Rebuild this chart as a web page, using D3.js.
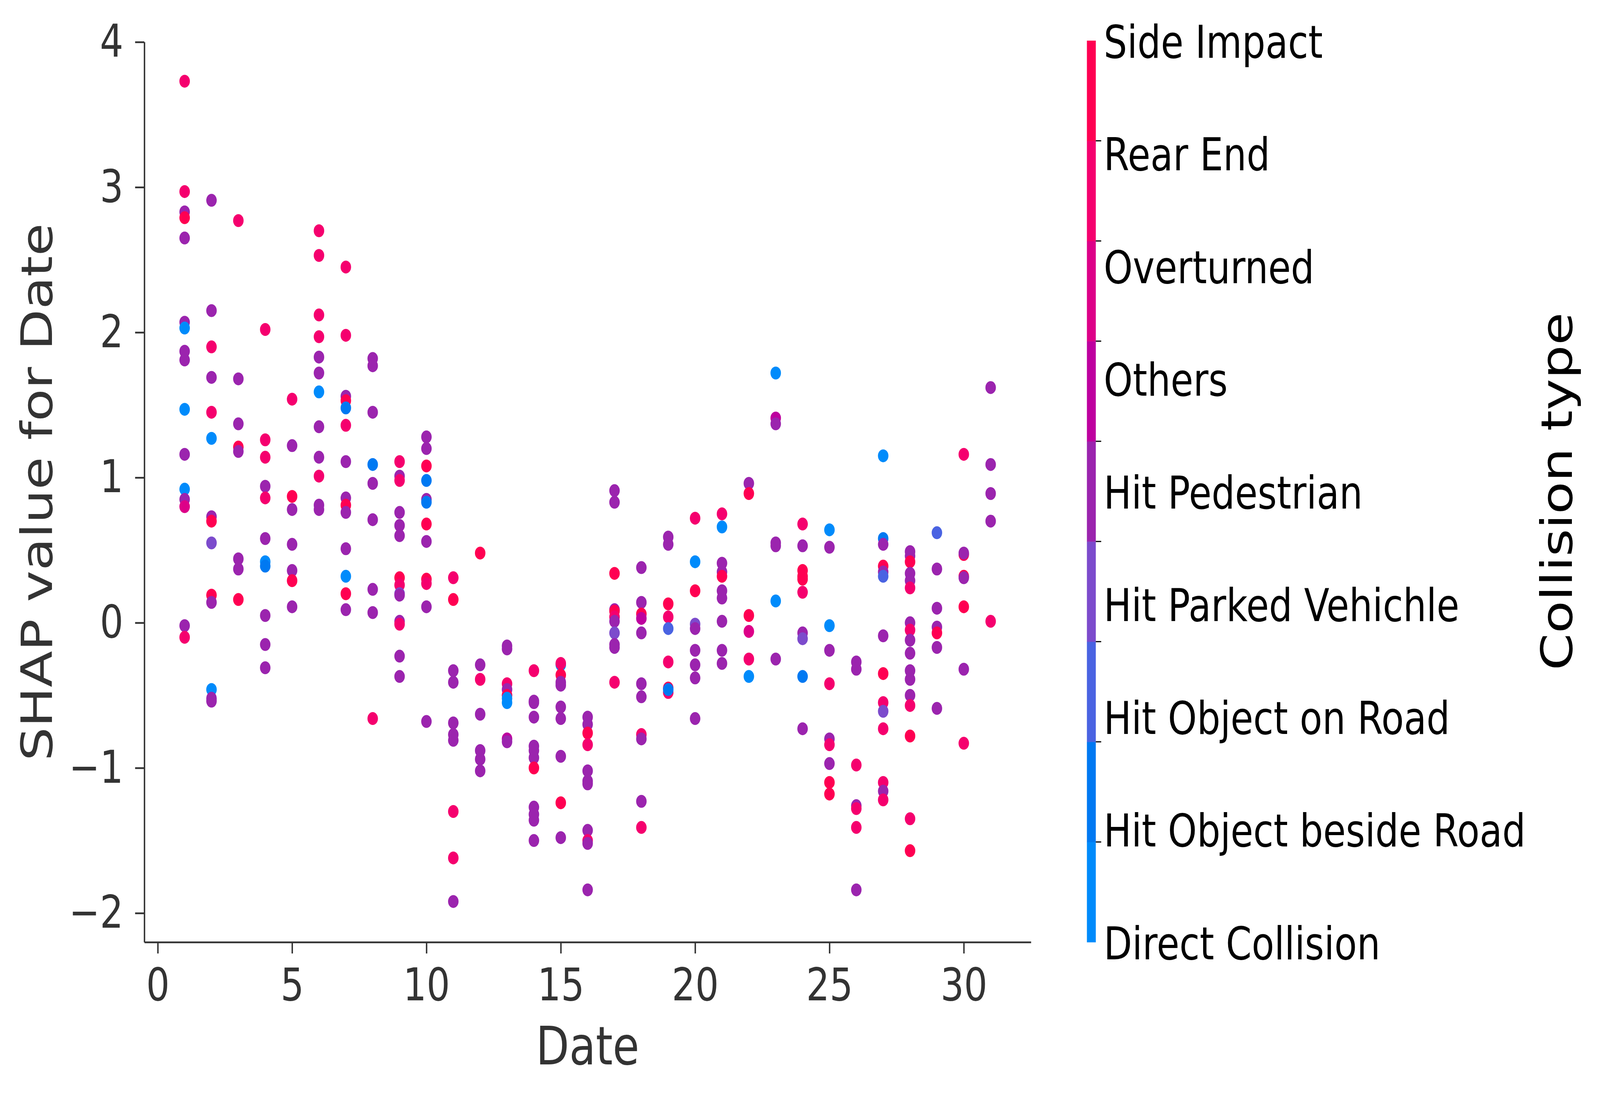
<!DOCTYPE html>
<html><head><meta charset="utf-8">
<script src="https://cdn.jsdelivr.net/npm/d3@7"></script>
<style>html,body{margin:0;padding:0;background:#fff;width:100%;height:100%;overflow:hidden;} svg{display:block;position:absolute;left:0;top:0;}</style>
</head><body>
<svg id="chart" viewBox="0 0 5033 2811" preserveAspectRatio="none"></svg>
<script>
// ---------- data ----------
const collisionTypes = ["Direct Collision","Hit Object beside Road","Hit Object on Road","Hit Parked Vehichle","Hit Pedestrian","Others","Overturned","Rear End","Side Impact"];
const typeCodes = "DBJKPOVRS"; // one letter per collision type, same order as collisionTypes
const dates = [1,2,3,4,5,6,7,8,9,10,11,12,13,14,15,16,17,18,19,20,21,22,23,24,25,26,27,28,29,30,31];
const shapByDate = [
  [3.73,2.97,2.83,2.79,2.65,2.07,2.03,1.87,1.81,1.47,1.16,0.92,0.85,0.80,-0.02,-0.10],
  [2.91,2.15,1.90,1.69,1.45,1.27,0.73,0.70,0.55,0.19,0.14,-0.46,-0.52,-0.54],
  [2.77,1.68,1.37,1.21,1.18,0.44,0.37,0.16],
  [2.02,1.26,1.14,0.94,0.86,0.58,0.42,0.39,0.05,-0.15,-0.31],
  [1.54,1.22,0.87,0.78,0.54,0.36,0.29,0.11],
  [2.70,2.53,2.12,1.97,1.83,1.72,1.59,1.35,1.14,1.01,0.81,0.78],
  [2.45,1.98,1.56,1.53,1.48,1.36,1.11,0.86,0.81,0.76,0.51,0.32,0.20,0.09],
  [1.82,1.77,1.45,1.09,0.96,0.71,0.23,0.07,-0.66],
  [1.11,1.01,0.98,0.76,0.67,0.60,0.31,0.26,0.20,0.19,0.01,-0.01,-0.23,-0.37],
  [1.28,1.20,1.08,0.98,0.85,0.83,0.68,0.56,0.30,0.27,0.11,-0.68],
  [0.31,0.16,-0.33,-0.41,-0.69,-0.77,-0.81,-1.30,-1.62,-1.92],
  [0.48,-0.29,-0.39,-0.63,-0.88,-0.94,-1.02],
  [-0.16,-0.18,-0.42,-0.46,-0.50,-0.52,-0.55,-0.80,-0.82],
  [-0.33,-0.54,-0.55,-0.65,-0.85,-0.88,-0.93,-1.00,-1.27,-1.32,-1.36,-1.50],
  [-0.29,-0.28,-0.36,-0.41,-0.43,-0.58,-0.66,-0.92,-1.24,-1.48],
  [-0.65,-0.70,-0.76,-0.84,-1.02,-1.09,-1.11,-1.43,-1.50,-1.52,-1.84],
  [0.91,0.83,0.34,0.09,0.08,0.04,0.01,-0.07,-0.15,-0.17,-0.41],
  [0.38,0.14,0.06,0.03,-0.07,-0.42,-0.51,-0.77,-0.80,-1.23,-1.41],
  [0.59,0.54,0.13,0.04,-0.04,-0.27,-0.45,-0.48,-0.46],
  [0.72,0.42,0.22,-0.01,-0.04,-0.19,-0.29,-0.38,-0.66],
  [0.75,0.66,0.41,0.35,0.32,0.22,0.17,0.01,-0.19,-0.28],
  [0.96,0.89,0.05,-0.06,-0.25,-0.37],
  [1.72,1.41,1.37,0.55,0.53,0.15,-0.25],
  [0.68,0.53,0.36,0.32,0.30,0.21,-0.07,-0.11,-0.37,-0.73],
  [0.64,0.52,-0.02,-0.19,-0.42,-0.80,-0.84,-0.97,-1.10,-1.18],
  [-0.27,-0.32,-0.98,-1.26,-1.28,-1.41,-1.84],
  [1.15,0.58,0.54,0.39,0.35,0.32,-0.09,-0.35,-0.55,-0.61,-0.73,-1.10,-1.16,-1.22],
  [0.49,0.46,0.42,0.34,0.29,0.24,0.00,-0.05,-0.12,-0.21,-0.33,-0.39,-0.50,-0.57,-0.78,-1.35,-1.57],
  [0.62,0.37,0.10,-0.03,-0.07,-0.17,-0.59],
  [1.16,0.47,0.48,0.32,0.31,0.11,-0.32,-0.83],
  [1.62,1.09,0.89,0.70,0.01]
];
const typeByDate = [
  "RRPSPPDPPDPDPVPR","PPRPRDPSKSPDPP","RPPSPPPS","RRRPRPDBPPP","RPSPPPSP",
  "RRRRPPDPPRPP","RRPSBRPPSPPDSP","PPPBPPPPR","RPRPPPSRKPPRPP","PPSBPBSPSRPP",
  "RSPPPPPRRP","SPRPPPP","PPRPSDDOP","RPPPPPPSPPPP","DRSPPPPPSP",
  "PPSRPPPPRPP","PPSPSRPKPPR","PPSOPPPRPPR","PPSRJRSRB","RDSKPPPPP",
  "RDPPSPPPPP","PSSVRD","DOPPPDP","RPSSSRPKBP","DPDPRPRPSS",
  "PPRPRRP","DBPSPJPSRKRRPR","PPSPPRPRPPPPPRSRS","JPPPSPP","RSPSPSPR","PPPPR"
];
const xTicks = [0,5,10,15,20,25,30];
const yTicks = [-2,-1,0,1,2,3,4];
const xLabel = "Date";
const yLabel = "SHAP value for Date";
const colorLabel = "Collision type";

// ---------- styles ----------
const typeColors = ["#008bfb","#0079f2","#4a63e2","#7c4bcc","#9b24ae","#be009f","#dd0088","#f5006e","#ff0052"];
const FONT = "DejaVu Sans, sans-serif";
const AXIS = "#333333";

const points = [];
dates.forEach((d, i) => {
  shapByDate[i].forEach((v, j) => {
    points.push({date: d, shap: v, type: typeCodes.indexOf(typeByDate[i][j])});
  });
});

const svg = d3.select("#chart")
  .attr("width", window.innerWidth).attr("height", window.innerHeight);
const L = 454, R = 3243, T = 107.6, B = 2412;
const x = d3.scaleLinear().domain([-0.5, 32.5]).range([L, R]);
const y = d3.scaleLinear().domain([-2.2, 4.0]).range([B, T]);
const color = d3.scaleOrdinal().domain(d3.range(collisionTypes.length)).range(typeColors);
const fmt = d3.format("d");

// points
svg.append("g").selectAll("circle").data(points).join("circle")
  .attr("cx", d => x(d.date)).attr("cy", d => y(d.shap))
  .attr("r", 16.5).attr("fill", d => color(d.type));

// axes
const xAxis = svg.append("g").attr("transform", `translate(0,${B})`)
  .call(d3.axisBottom(x).tickValues(xTicks).tickFormat(fmt).tickSize(29).tickSizeOuter(0).tickPadding(38));
const yAxis = svg.append("g").attr("transform", `translate(${L},0)`)
  .call(d3.axisLeft(y).tickValues(yTicks).tickFormat(fmt).tickSize(29).tickSizeOuter(0).tickPadding(37));
[xAxis, yAxis].forEach(g => {
  g.select(".domain").attr("stroke", AXIS).attr("stroke-width", 4.5);
  g.selectAll(".tick line").attr("stroke", AXIS).attr("stroke-width", 4.5);
  g.selectAll(".tick text").attr("fill", AXIS).attr("font-family", FONT).attr("font-size", 116);
});

svg.append("text").attr("x", (L + R) / 2).attr("y", 2725)
  .attr("text-anchor", "middle").attr("font-family", FONT).attr("font-size", 136)
  .attr("fill", AXIS).text(xLabel);
svg.append("text").attr("transform", `translate(164,${(T + B) / 2}) rotate(-90)`)
  .attr("text-anchor", "middle").attr("font-family", FONT).attr("font-size", 136)
  .attr("fill", AXIS).text(yLabel);

// colorbar
const cbX = 3419, cbW = 28, cbT = 104, cbB = 2412;
const seg = d3.scaleLinear().domain([0, collisionTypes.length]).range([cbB, cbT]);
const lab = d3.scaleLinear().domain([0, collisionTypes.length - 1]).range([cbB, cbT]);
const cb = svg.append("g");
cb.selectAll("rect").data(collisionTypes).join("rect")
  .attr("x", cbX).attr("width", cbW)
  .attr("y", (d, i) => seg(i + 1)).attr("height", (d, i) => seg(i) - seg(i + 1) + 0.5)
  .attr("fill", (d, i) => color(i));
cb.selectAll("line").data(d3.range(1, collisionTypes.length)).join("line")
  .attr("x1", cbX + cbW).attr("x2", cbX + cbW + 17)
  .attr("y1", d => seg(d)).attr("y2", d => seg(d))
  .attr("stroke", "#000").attr("stroke-width", 3);
cb.selectAll("text").data(collisionTypes).join("text")
  .attr("x", 3472).attr("y", (d, i) => lab(i) + 44)
  .attr("font-family", FONT).attr("font-size", 116).attr("fill", "#000")
  .text(d => d);
svg.append("text").attr("transform", `translate(4945,${(cbT + cbB) / 2}) rotate(-90)`)
  .attr("text-anchor", "middle").attr("font-family", FONT).attr("font-size", 136)
  .attr("fill", "#000").text(colorLabel);
</script>
</body></html>
